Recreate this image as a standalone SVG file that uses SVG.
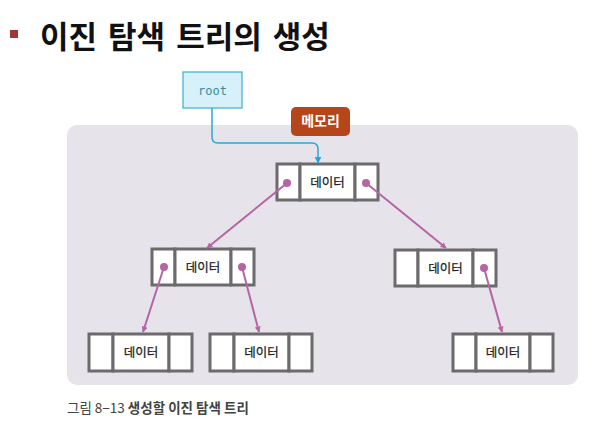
<svg xmlns="http://www.w3.org/2000/svg" width="609" height="423" viewBox="0 0 609 423">
<style>
.cell{fill:#ffffff;stroke:#6b6b6d;stroke-width:3}
.lbl{font-family:"Noto Sans CJK KR","Liberation Sans",sans-serif;font-size:12.5px;fill:#222;text-anchor:middle;stroke:#222;stroke-width:0.25}
.edge{stroke:#b565a4;stroke-width:2;fill:none}
.dot{fill:#b565a4}
.kr{font-family:"Noto Sans CJK KR","Liberation Sans",sans-serif}
</style>
<defs>
<marker id="ah" viewBox="0 0 10 10" refX="9" refY="5" markerWidth="6" markerHeight="6" orient="auto" markerUnits="userSpaceOnUse">
<path d="M0,0 L10,5 L0,10 z" fill="#b565a4"/>
</marker>
<marker id="ahb" viewBox="0 0 10 10" refX="9" refY="5" markerWidth="7" markerHeight="7" orient="auto" markerUnits="userSpaceOnUse">
<path d="M0,0 L10,5 L0,10 z" fill="#2aa6d8"/>
</marker>
</defs>
<rect width="609" height="423" fill="#ffffff"/>
<g id="title">
<rect x="10" y="30" width="8" height="8" fill="#a23535"/>
<text class="kr" x="40" y="48" font-size="31" font-weight="bold" fill="#111" word-spacing="4">이진 탐색 트리의 생성</text>
</g>
<rect id="memory-area" x="67" y="125" width="511" height="260" rx="10" fill="#e6e3ea"/>
<g id="root">
<rect x="183" y="72" width="59" height="36" fill="#d6f1f9" stroke="#3ab0d0" stroke-width="1.2"/>
<text x="212.5" y="95" font-family="'DejaVu Sans Mono','Liberation Mono',monospace" font-size="12" fill="#3a8aa0" text-anchor="middle">root</text>
</g>
<g id="memory-label">
<rect x="291" y="107" width="59" height="29" rx="5" fill="#b5461a"/>
<text class="kr" x="320.5" y="126" font-size="14" font-weight="bold" fill="#ffffff" text-anchor="middle">메모리</text>
</g>
<g id="n1">
<rect class="cell" x="277" y="164" width="23" height="36"/>
<rect class="cell" x="300" y="164" width="55" height="36"/>
<rect class="cell" x="355" y="164" width="23" height="36"/>
<text class="lbl" x="327.5" y="186.5">데이터</text>
</g>
<g id="n2">
<rect class="cell" x="152" y="249" width="23" height="36"/>
<rect class="cell" x="175" y="249" width="56" height="36"/>
<rect class="cell" x="231" y="249" width="23" height="36"/>
<text class="lbl" x="203" y="271.5">데이터</text>
</g>
<g id="n3">
<rect class="cell" x="395" y="250" width="23" height="36"/>
<rect class="cell" x="418" y="250" width="55" height="36"/>
<rect class="cell" x="473" y="250" width="23" height="36"/>
<text class="lbl" x="445.5" y="272.5">데이터</text>
</g>
<g id="n4">
<rect class="cell" x="89" y="334" width="24" height="37"/>
<rect class="cell" x="113" y="334" width="56" height="37"/>
<rect class="cell" x="169" y="334" width="23" height="37"/>
<text class="lbl" x="141" y="357">데이터</text>
</g>
<g id="n5">
<rect class="cell" x="210" y="334" width="24" height="37"/>
<rect class="cell" x="234" y="334" width="55" height="37"/>
<rect class="cell" x="289" y="334" width="23" height="37"/>
<text class="lbl" x="261.5" y="357">데이터</text>
</g>
<g id="n6">
<rect class="cell" x="453" y="334" width="23" height="37"/>
<rect class="cell" x="476" y="334" width="54" height="37"/>
<rect class="cell" x="530" y="334" width="23" height="37"/>
<text class="lbl" x="503" y="357">데이터</text>
</g>
<g id="connectors">
<path d="M212,108 V137 Q212,143 218,143 H312 Q318,143 318,149 V163" stroke="#2aa6d8" stroke-width="1.5" fill="none" marker-end="url(#ahb)"/>
<line class="edge" x1="287" y1="183" x2="207" y2="248" marker-end="url(#ah)"/>
<line class="edge" x1="366" y1="183" x2="446" y2="248" marker-end="url(#ah)"/>
<line class="edge" x1="164" y1="267" x2="143" y2="332" marker-end="url(#ah)"/>
<line class="edge" x1="242" y1="267" x2="259" y2="332" marker-end="url(#ah)"/>
<line class="edge" x1="484" y1="268" x2="502" y2="332" marker-end="url(#ah)"/>
<circle class="dot" cx="287" cy="183" r="4"/>
<circle class="dot" cx="366" cy="183" r="4"/>
<circle class="dot" cx="164" cy="267" r="4"/>
<circle class="dot" cx="242" cy="267" r="4"/>
<circle class="dot" cx="484" cy="268" r="4"/>
</g>
<text id="caption" class="kr" x="67" y="413" font-size="13.5" fill="#444">그림 8−13 <tspan font-weight="bold">생성할 이진 탐색 트리</tspan></text>
</svg>
